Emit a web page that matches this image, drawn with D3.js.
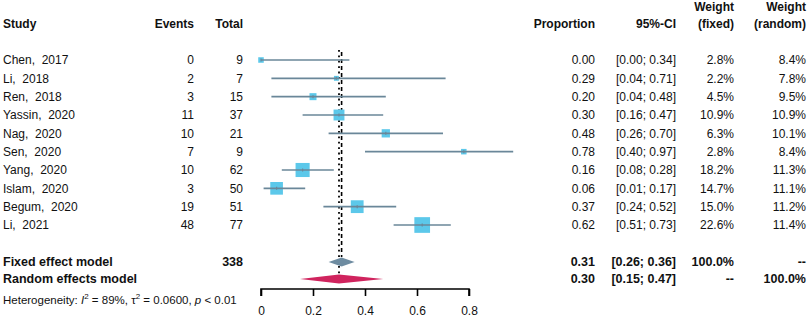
<!DOCTYPE html>
<html><head><meta charset="utf-8">
<script src="https://cdn.jsdelivr.net/npm/d3@7"></script>
<style>body{margin:0;background:#fff}svg{display:block}text{font-family:"Liberation Sans",Arial,sans-serif;fill:#111;white-space:pre}</style>
</head><body>
<svg id="c" width="809" height="318"></svg>
<script>
const studies = ["Chen,  2017","Li,  2018","Ren,  2018","Yassin,  2020","Nag,  2020","Sen,  2020","Yang,  2020","Islam,  2020","Begum,  2020","Li,  2021"];
const events = [0,2,3,11,10,7,10,3,19,48];
const totals = [9,7,15,37,21,9,62,50,51,77];
const props = [0.00,0.29,0.20,0.30,0.48,0.78,0.16,0.06,0.37,0.62];
const ciLo = [0.00,0.04,0.04,0.16,0.26,0.40,0.08,0.01,0.24,0.51];
const ciHi = [0.34,0.71,0.48,0.47,0.70,0.97,0.28,0.17,0.52,0.73];
const wFixed = [2.8,2.2,4.5,10.9,6.3,2.8,18.2,14.7,15.0,22.6];
const wRandom = [8.4,7.8,9.5,10.9,10.1,8.4,11.3,11.1,11.2,11.4];
const fixedModel = {est:0.31, lo:0.26, hi:0.36, total:338, wf:"100.0%", wr:"--"};
const randomModel = {est:0.30, lo:0.15, hi:0.47, wf:"--", wr:"100.0%"};
const xTicks = [0,0.2,0.4,0.6,0.8];

const svg = d3.select("#c");
const x = d3.scaleLinear().domain([0,0.8]).range([261,469]);
const y = d3.scaleLinear().domain([0,9]).range([60,225]);
const yFixed = 262, yRandom = 279;
const f2 = d3.format(".2f"), f1 = d3.format(".1f");
const fs = 12;

// header
const hdr = svg.append("g").attr("font-weight","bold").attr("font-size",fs);
hdr.append("text").attr("x",3).attr("y",28).text("Study");
hdr.append("text").attr("x",194).attr("y",28).attr("text-anchor","end").text("Events");
hdr.append("text").attr("x",243).attr("y",28).attr("text-anchor","end").text("Total");
hdr.append("text").attr("x",595).attr("y",28).attr("text-anchor","end").text("Proportion");
hdr.append("text").attr("x",676).attr("y",28).attr("text-anchor","end").text("95%-CI");
hdr.append("text").attr("x",734).attr("y",11).attr("text-anchor","end").text("Weight");
hdr.append("text").attr("x",734).attr("y",28).attr("text-anchor","end").text("(fixed)");
hdr.append("text").attr("x",806).attr("y",11).attr("text-anchor","end").text("Weight");
hdr.append("text").attr("x",806).attr("y",28).attr("text-anchor","end").text("(random)");

// reference lines
svg.append("line").attr("x1",x(fixedModel.est)).attr("x2",x(fixedModel.est)).attr("y1",52).attr("y2",257)
  .attr("stroke","#000").attr("stroke-width",1.6).attr("stroke-dasharray","4,3");
svg.append("line").attr("x1",x(randomModel.est)).attr("x2",x(randomModel.est)).attr("y1",50).attr("y2",274)
  .attr("stroke","#000").attr("stroke-width",1.8).attr("stroke-dasharray","1.8,3.6");

// rows
const rows = svg.append("g");
studies.forEach((s,i)=>{
  const yy = y(i), by = yy+4.3;
  const side = 3.3*Math.sqrt(wFixed[i]);
  rows.append("rect").attr("x",x(props[i])-side/2).attr("y",yy-side/2).attr("width",side).attr("height",side).attr("fill","#5CC8EA");
  rows.append("line").attr("x1",x(ciLo[i])).attr("x2",x(ciHi[i])).attr("y1",yy).attr("y2",yy).attr("stroke","#6A8799").attr("stroke-width",1.6);
  rows.append("line").attr("x1",x(props[i])).attr("x2",x(props[i])).attr("y1",yy-1.5).attr("y2",yy+1.5).attr("stroke","#6A8799").attr("stroke-width",1.2);
  const t = rows.append("g").attr("font-size",fs);
  t.append("text").attr("x",3).attr("y",by).text(s);
  t.append("text").attr("x",194).attr("y",by).attr("text-anchor","end").text(events[i]);
  t.append("text").attr("x",243).attr("y",by).attr("text-anchor","end").text(totals[i]);
  t.append("text").attr("x",595).attr("y",by).attr("text-anchor","end").text(f2(props[i]));
  t.append("text").attr("x",676).attr("y",by).attr("text-anchor","end").text("["+f2(ciLo[i])+"; "+f2(ciHi[i])+"]");
  t.append("text").attr("x",734).attr("y",by).attr("text-anchor","end").text(f1(wFixed[i])+"%");
  t.append("text").attr("x",806).attr("y",by).attr("text-anchor","end").text(f1(wRandom[i])+"%");
});

// diamonds
function diamond(m, yy, h, col){
  svg.append("path").attr("d",`M${x(m.lo)},${yy}L${x(m.est)},${yy-h}L${x(m.hi)},${yy}L${x(m.est)},${yy+h}Z`).attr("fill",col);
}
diamond(fixedModel, yFixed, 4.5, "#6E8CA1");
diamond(randomModel, yRandom, 4.5, "#D0245E");

// summary text
const sm = svg.append("g").attr("font-weight","bold").attr("font-size",12.5);
[[fixedModel,yFixed,"Fixed effect model"],[randomModel,yRandom,"Random effects model"]].forEach(([m,yy,lab])=>{
  const by = yy+4.4;
  sm.append("text").attr("x",3).attr("y",by).text(lab);
  if(m.total!==undefined) sm.append("text").attr("x",243).attr("y",by).attr("text-anchor","end").text(m.total);
  sm.append("text").attr("x",595).attr("y",by).attr("text-anchor","end").text(f2(m.est));
  sm.append("text").attr("x",676).attr("y",by).attr("text-anchor","end").text("["+f2(m.lo)+"; "+f2(m.hi)+"]");
  sm.append("text").attr("x",734).attr("y",by).attr("text-anchor","end").text(m.wf);
  sm.append("text").attr("x",806).attr("y",by).attr("text-anchor","end").text(m.wr);
});

// heterogeneity
const het = svg.append("text").attr("x",3).attr("y",304).attr("font-size",11.5);
het.append("tspan").text("Heterogeneity: ");
het.append("tspan").attr("font-style","italic").text("I");
het.append("tspan").attr("dy",-5).attr("font-size",8).text("2");
het.append("tspan").attr("dy",5).text(" = 89%, \u03C4");
het.append("tspan").attr("dy",-5).attr("font-size",8).text("2");
het.append("tspan").attr("dy",5).text(" = 0.0600, ");
het.append("tspan").attr("font-style","italic").text("p");
het.append("tspan").text(" < 0.01");

// axis
const ax = svg.append("g").attr("transform","translate(0,289)")
  .call(d3.axisBottom(x).tickValues(xTicks).tickFormat(d=>d===0?"0":d3.format(".1f")(d)).tickSize(7).tickPadding(10));
ax.select(".domain").attr("stroke","#000").attr("stroke-width",1.6).attr("d",`M${x(0)},7V0H${x(0.8)}V7`);
ax.selectAll(".tick line").attr("stroke","#000").attr("stroke-width",1.6);
ax.selectAll(".tick text").attr("font-size",fs).attr("font-family","Liberation Sans, Arial, sans-serif").attr("fill","#111");
</script>
</body></html>
